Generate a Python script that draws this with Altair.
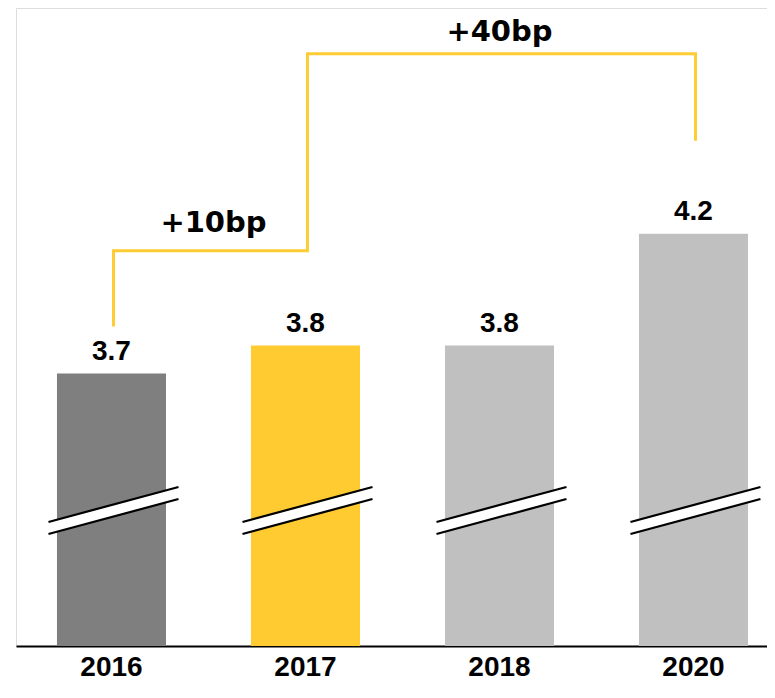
import altair as alt
import pandas as pd

# ---- data ----
years = ["2016", "2017", "2018", "2020"]
values = [3.7, 3.8, 3.8, 4.2]
value_labels = ["3.7", "3.8", "3.8", "4.2"]
bar_colors = ["#7F7F7F", "#FFCB30", "#C0C0C0", "#C0C0C0"]

# bracket path (category, value level) and order
bracket_x = ["2016", "2016", "2017", "2017", "2020", "2020"]
bracket_y = [3.868, 4.139, 4.139, 4.843, 4.843, 4.532]
bracket_order = [0, 1, 2, 3, 4, 5]

ann_text = ["+10bp", "+40bp"]
ann_x = ["2016", "2018"]
ann_y = [4.207, 4.889]

# axis-break marks (left / right value of each slanted line)
break_upper = [3.170, 3.295]
break_lower = [3.127, 3.252]
break_mid = [3.148, 3.273]

Y_MIN = 2.727
Y_MAX = 5.006

bars = pd.DataFrame({"year": years, "value": values, "label": value_labels, "color": bar_colors})
bracket = pd.DataFrame({"year": bracket_x, "value": bracket_y, "order": bracket_order})
brk = pd.DataFrame({
    "year": years,
    "u1": [break_upper[0]] * 4, "u2": [break_upper[1]] * 4,
    "l1": [break_lower[0]] * 4, "l2": [break_lower[1]] * 4,
    "m1": [break_mid[0]] * 4, "m2": [break_mid[1]] * 4,
})
ann1 = pd.DataFrame({"year": [ann_x[0]], "value": [ann_y[0]], "text": [ann_text[0]]})
ann2 = pd.DataFrame({"year": [ann_x[1]], "value": [ann_y[1]], "text": [ann_text[1]]})

FONT = "Liberation Sans, Arial, sans-serif"

# plot width 751: bands of step 194 starting 41px in
x_enc = alt.X(
    "year:N",
    sort=years,
    scale=alt.Scale(paddingInner=0.438, paddingOuter=0.1546, align=0.683),
    axis=alt.Axis(
        title=None, domainColor="black", domainWidth=2, ticks=False, tickSize=0,
        labelFont=FONT, labelFontSize=28, labelFontWeight="bold", labelColor="black",
        labelPadding=29, labelBaseline="alphabetic", labelAngle=0,
    ),
)
y_scale = alt.Scale(domain=[Y_MIN, Y_MAX], zero=False, nice=False)

bar_layer = alt.Chart(bars).mark_bar().encode(
    x=x_enc,
    y=alt.Y("value:Q", scale=y_scale, axis=None),
    y2=alt.datum(Y_MIN),
    color=alt.Color("color:N", scale=None),
)

label_layer = alt.Chart(bars).mark_text(
    font=FONT, fontSize=28, fontWeight="bold", color="black", baseline="alphabetic", dy=-14
).encode(x=alt.X("year:N", sort=years), y=alt.Y("value:Q"), text="label:N")

white_brk = alt.Chart(brk).mark_rule(color="white", strokeWidth=11, xOffset=-63, x2Offset=67).encode(
    x=alt.X("year:N", sort=years), x2="year:N", y="m1:Q", y2="m2:Q"
)
upper_brk = alt.Chart(brk).mark_rule(color="black", strokeWidth=2.2, xOffset=-63, x2Offset=67).encode(
    x=alt.X("year:N", sort=years), x2="year:N", y="u1:Q", y2="u2:Q"
)
lower_brk = alt.Chart(brk).mark_rule(color="black", strokeWidth=2.2, xOffset=-63, x2Offset=67).encode(
    x=alt.X("year:N", sort=years), x2="year:N", y="l1:Q", y2="l2:Q"
)

bracket_layer = alt.Chart(bracket).mark_line(
    color="#FFCC33", strokeWidth=3, strokeJoin="miter", strokeCap="butt", xOffset=2
).encode(x=alt.X("year:N", sort=years), y="value:Q", order="order:Q")

ann_layer1 = alt.Chart(ann1).mark_text(
    font="DejaVu Sans", fontSize=29, fontWeight="bold", color="black", baseline="alphabetic", dx=102
).encode(x=alt.X("year:N", sort=years), y="value:Q", text="text:N")
ann_layer2 = alt.Chart(ann2).mark_text(
    font="DejaVu Sans", fontSize=29, fontWeight="bold", color="black", baseline="alphabetic"
).encode(x=alt.X("year:N", sort=years), y="value:Q", text="text:N")

chart = alt.layer(
    bar_layer, white_brk, upper_brk, lower_brk, label_layer, bracket_layer, ann_layer1, ann_layer2
).properties(
    width=751, height=638,
    padding={"left": 8, "right": 0, "top": 0, "bottom": 36},
    autosize=alt.AutoSizeParams(type="none"),
).configure_view(stroke=None).configure(background="white")

chart.save("out.html", embed_options={"renderer": "svg", "actions": False})
